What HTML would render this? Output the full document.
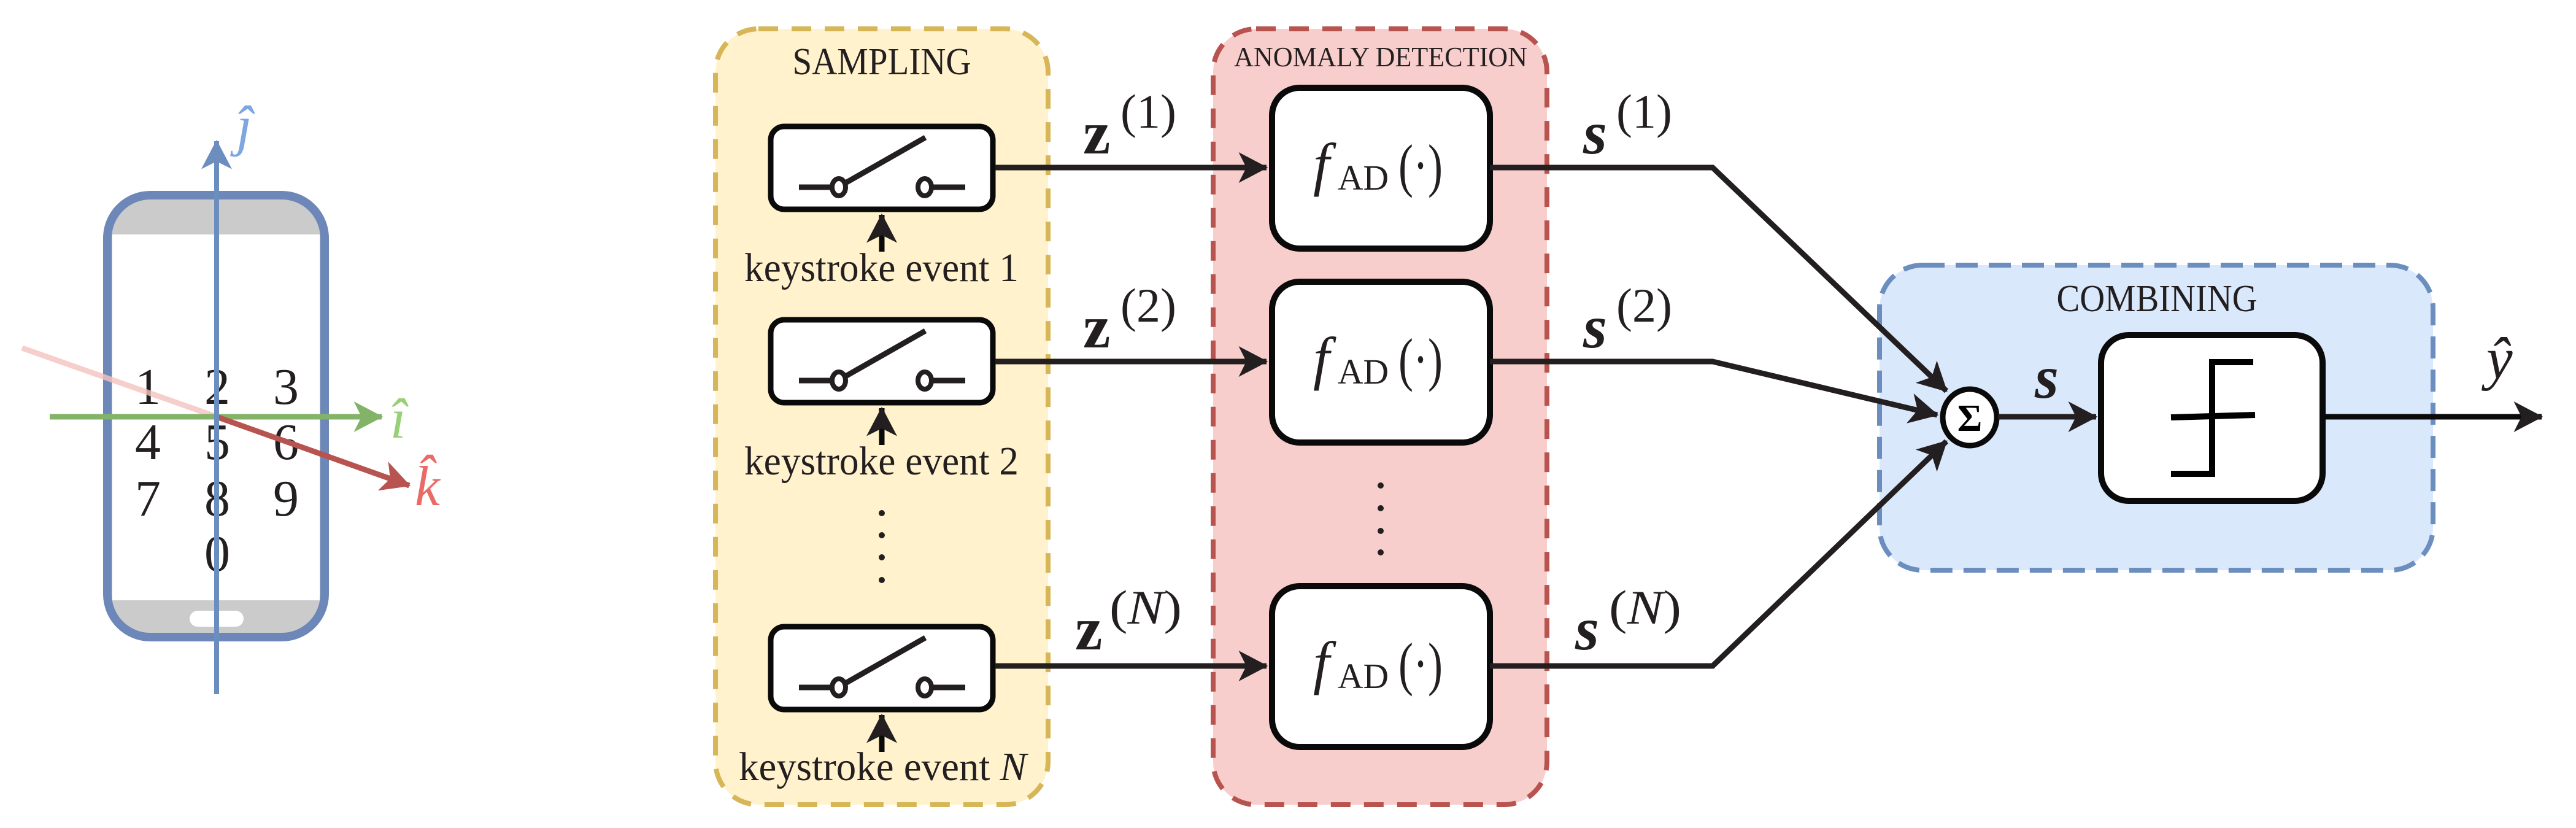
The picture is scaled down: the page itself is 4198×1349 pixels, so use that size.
<!DOCTYPE html>
<html><head><meta charset="utf-8"><style>
html,body{margin:0;padding:0;background:#fff;}
svg{display:block;}
svg text{font-family:"Liberation Serif","DejaVu Serif",serif;fill:#231f20;}
</style></head><body>
<svg width="4198" height="1349" viewBox="0 0 4198 1349" xmlns="http://www.w3.org/2000/svg" font-family="'Liberation Serif', 'DejaVu Serif', serif">
<defs>
<marker id="ah" markerUnits="userSpaceOnUse" markerWidth="50" markerHeight="50" refX="40" refY="22" orient="auto" viewBox="0 0 44 44"><path d="M0 0 L42 22 L0 44 L11 22Z" fill="#231f20"/></marker>
<marker id="ahb" markerUnits="userSpaceOnUse" markerWidth="50" markerHeight="50" refX="40" refY="22" orient="auto" viewBox="0 0 44 44"><path d="M0 0 L42 22 L0 44 L11 22Z" fill="#6c8ebf"/></marker>
<marker id="ahg" markerUnits="userSpaceOnUse" markerWidth="50" markerHeight="50" refX="40" refY="22" orient="auto" viewBox="0 0 44 44"><path d="M0 0 L42 22 L0 44 L11 22Z" fill="#82b366"/></marker>
<marker id="ahr" markerUnits="userSpaceOnUse" markerWidth="50" markerHeight="50" refX="40" refY="22" orient="auto" viewBox="0 0 44 44"><path d="M0 0 L42 22 L0 44 L11 22Z" fill="#b85450"/></marker>
</defs>

<!-- PHONE -->
<rect x="175" y="318" width="354" height="720" rx="70" fill="#cacbca"/>
<rect x="183" y="382" width="338" height="596" fill="#fff"/>
<rect x="309" y="995" width="88" height="26" rx="13" fill="#fff"/>
<rect x="175" y="318" width="354" height="720" rx="70" fill="none" stroke="#6c87b8" stroke-width="14"/>
<g font-size="84" text-anchor="middle" font-family="'Liberation Serif', serif">
<text x="241" y="658">1</text><text x="354" y="658">2</text><text x="466" y="658">3</text>
<text x="241" y="748">4</text><text x="354" y="748">5</text><text x="466" y="748">6</text>
<text x="241" y="840">7</text><text x="354" y="840">8</text><text x="466" y="840">9</text>
<text x="354" y="930">0</text>
</g>
<line x1="36" y1="567" x2="353" y2="679" stroke="#f5c3bf" stroke-width="9" opacity="0.8"/>
<line x1="81" y1="679" x2="622" y2="679" stroke="#82b366" stroke-width="9" marker-end="url(#ahg)"/>
<line x1="353" y1="679" x2="667" y2="791" stroke="#b85450" stroke-width="9" marker-end="url(#ahr)"/>
<line x1="353" y1="1131" x2="353" y2="230" stroke="#6c8ebf" stroke-width="8" marker-end="url(#ahb)"/>
<text x="385" y="236" font-size="92" font-style="italic" style="fill:#7ea6e0">ĵ</text>
<text x="636" y="713" font-size="92" font-style="italic" style="fill:#97d077">î</text>
<text x="676" y="823" font-size="92" font-style="italic" style="fill:#ea6b66">k̂</text>

<!-- SAMPLING -->
<rect x="1166" y="47" width="542" height="1264" rx="70" fill="#fff2cc" stroke="#d6b656" stroke-width="8" stroke-dasharray="32 22"/>
<text x="1437" y="121" font-size="62" text-anchor="middle" textLength="291" lengthAdjust="spacingAndGlyphs">SAMPLING</text>

<g id="sw1">
<rect x="1256" y="206" width="362" height="135" rx="22" fill="#fff" stroke="#0a0a0a" stroke-width="9"/>
<line x1="1302" y1="305" x2="1356" y2="305" stroke="#231f20" stroke-width="9"/>
<ellipse cx="1367" cy="305" rx="11" ry="14" fill="#fff" stroke="#231f20" stroke-width="8"/>
<line x1="1378" y1="298" x2="1508" y2="224" stroke="#231f20" stroke-width="9"/>
<ellipse cx="1507" cy="305" rx="11" ry="14" fill="#fff" stroke="#231f20" stroke-width="8"/>
<line x1="1518" y1="305" x2="1573" y2="305" stroke="#231f20" stroke-width="9"/>
<line x1="1437" y1="410" x2="1437" y2="350" stroke="#0a0a0a" stroke-width="9" marker-end="url(#ah)"/>
</g>
<use href="#sw1" transform="translate(0,315)"/>
<use href="#sw1" transform="translate(0,815)"/>
<text x="1213" y="458" font-size="66" textLength="447" lengthAdjust="spacingAndGlyphs">keystroke event 1</text>
<text x="1213" y="773" font-size="66" textLength="447" lengthAdjust="spacingAndGlyphs">keystroke event 2</text>
<text x="1204" y="1271" font-size="66" textLength="469" lengthAdjust="spacingAndGlyphs">keystroke event <tspan font-style="italic">N</tspan></text>
<g fill="#231f20">
<circle cx="1437" cy="836" r="5"/><circle cx="1437" cy="872" r="5"/><circle cx="1437" cy="908" r="5"/><circle cx="1437" cy="945" r="5"/>
</g>

<!-- ANOMALY DETECTION -->
<rect x="1977" y="47" width="544" height="1264" rx="70" fill="#f8cecc" stroke="#b85450" stroke-width="8" stroke-dasharray="32 22"/>
<text x="2250" y="108" font-size="45" text-anchor="middle" textLength="478" lengthAdjust="spacingAndGlyphs">ANOMALY DETECTION</text>
<g id="fb">
<rect x="2073" y="143" width="355" height="262" rx="45" fill="#fff" stroke="#0a0a0a" stroke-width="10"/>
<text x="2140" y="300" font-size="96" font-style="italic">f</text>
<text x="2180" y="309" font-size="58" textLength="83" lengthAdjust="spacingAndGlyphs">AD</text>
<text x="2279" y="302" font-size="96" textLength="72" lengthAdjust="spacingAndGlyphs">(·)</text>
</g>
<use href="#fb" transform="translate(0,316)"/>
<use href="#fb" transform="translate(0,812)"/>
<g fill="#231f20">
<circle cx="2250" cy="791" r="5"/><circle cx="2250" cy="828" r="5"/><circle cx="2250" cy="865" r="5"/><circle cx="2250" cy="900" r="5"/>
</g>

<!-- z arrows -->
<g stroke="#231f20" stroke-width="9" fill="none">
<line x1="1622" y1="273" x2="2064" y2="273" marker-end="url(#ah)"/>
<line x1="1622" y1="589" x2="2064" y2="589" marker-end="url(#ah)"/>
<line x1="1622" y1="1085" x2="2064" y2="1085" marker-end="url(#ah)"/>
</g>
<text x="1765" y="250" font-size="100" font-weight="bold">z</text><text x="1826" y="208" font-size="78">(1)</text>
<text x="1765" y="566" font-size="100" font-weight="bold">z</text><text x="1826" y="524" font-size="78">(2)</text>
<text x="1752" y="1058" font-size="100" font-weight="bold">z</text><text x="1808" y="1016" font-size="78" textLength="118" lengthAdjust="spacingAndGlyphs">(<tspan font-style="italic">N</tspan>)</text>

<!-- COMBINING -->
<rect x="3063" y="432" width="902" height="497" rx="70" fill="#dae8fc" stroke="#6c8ebf" stroke-width="8" stroke-dasharray="36 18"/>
<text x="3515" y="507" font-size="62" text-anchor="middle" textLength="327" lengthAdjust="spacingAndGlyphs">COMBINING</text>

<!-- s lines -->
<g stroke="#231f20" stroke-width="9" fill="none" stroke-linejoin="miter">
<polyline points="2428,273 2791,273 3172,637" marker-end="url(#ah)"/>
<polyline points="2428,589 2791,589 3157,676" marker-end="url(#ah)"/>
<polyline points="2428,1085 2791,1085 3172,719" marker-end="url(#ah)"/>
</g>
<text x="2580" y="250" font-size="100" font-weight="bold" font-style="italic">s</text><text x="2634" y="208" font-size="78">(1)</text>
<text x="2580" y="566" font-size="100" font-weight="bold" font-style="italic">s</text><text x="2634" y="524" font-size="78">(2)</text>
<text x="2567" y="1058" font-size="100" font-weight="bold" font-style="italic">s</text><text x="2622" y="1016" font-size="78" textLength="118" lengthAdjust="spacingAndGlyphs">(<tspan font-style="italic">N</tspan>)</text>

<ellipse cx="3210" cy="680" rx="44" ry="46" fill="#fff" stroke="#0a0a0a" stroke-width="9"/>
<text x="3210" y="702" font-size="62" font-weight="bold" text-anchor="middle" style="fill:#000">Σ</text>
<line x1="3256" y1="679" x2="3416" y2="679" stroke="#231f20" stroke-width="9" marker-end="url(#ah)"/>
<text x="3316" y="648" font-size="100" font-weight="bold" font-style="italic">s</text>
<rect x="3424" y="546" width="361" height="270" rx="45" fill="#fff" stroke="#0a0a0a" stroke-width="10"/>
<g stroke="#000" stroke-width="10" fill="none">
<polyline points="3672,590 3605,590 3605,772 3538,772"/>
<line x1="3538" y1="680" x2="3675" y2="676"/>
</g>
<line x1="3789" y1="679" x2="4142" y2="679" stroke="#0a0a0a" stroke-width="9" marker-end="url(#ah)"/>
<text x="4052" y="616" font-size="96" font-style="italic">ŷ</text>
</svg>
</body></html>
